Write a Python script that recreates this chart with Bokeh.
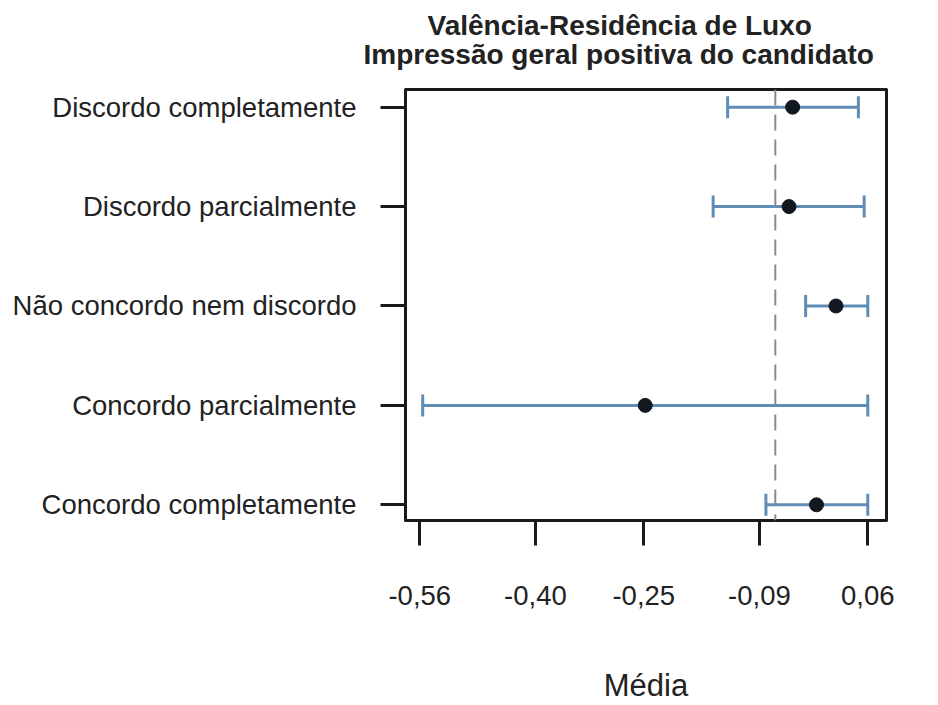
from bokeh.plotting import figure
from bokeh.models import Range1d, FixedTicker, Span, Title, ColumnDataSource
from bokeh.embed import file_html
from bokeh.resources import INLINE

# Response categories (top to bottom) and their estimated means with interval bounds
categories = [
    "Discordo completamente",
    "Discordo parcialmente",
    "Não concordo nem discordo",
    "Concordo parcialmente",
    "Concordo completamente",
]
means = [-0.044, -0.049, 0.016, -0.248, -0.011]
lower = [-0.134, -0.154, -0.026, -0.556, -0.081]
upper = [0.047, 0.055, 0.060, 0.060, 0.060]

# Overall reference mean (dashed line)
overall_mean = -0.068

x_ticks = [-0.56, -0.40, -0.25, -0.09, 0.06]
x_tick_labels = ["-0,56", "-0,40", "-0,25", "-0,09", "0,06"]

title_lines = ["Valência-Residência de Luxo", "Impressão geral positiva do candidato"]
x_label = "Média"

FONT = "Liberation Sans"
TEXT = "#222222"
BAR = "#5f8db5"

rows = list(range(1, len(categories) + 1))
src = ColumnDataSource(dict(y=rows, m=means, lo=lower, hi=upper))

p = figure(
    width=938, height=705,
    x_range=Range1d(-0.5798, 0.0859),
    y_range=Range1d(5.158, 0.822),
    output_backend="svg", toolbar_location=None,
    min_border_left=405, min_border_right=52,
    min_border_top=89, min_border_bottom=185,
)
p.background_fill_color = "white"
p.border_fill_color = "white"
p.grid.visible = False
p.outline_line_color = "#1a1a1a"
p.outline_line_width = 3
p.outline_line_join = "round"

# two-line bold title: first line is the outer title, second sits above the frame
p.title.text = title_lines[0]
p.title.align = "left"
p.title.offset = 22
p.title.text_font = FONT
p.title.text_font_size = "28px"
p.title.text_font_style = "bold"
p.title.text_color = TEXT
p.title.standoff = -48
p.add_layout(Title(text=title_lines[1], align="left", offset=-42, text_font=FONT,
                   text_font_size="28px", text_font_style="bold", text_color=TEXT,
                   standoff=40), "above")

# x axis
xa = p.xaxis[0]
xa.ticker = FixedTicker(ticks=x_ticks)
xa.major_label_overrides = {t: s for t, s in zip(x_ticks, x_tick_labels)}
xa.minor_tick_line_color = None
xa.axis_line_color = None
xa.major_tick_in = 0
xa.major_tick_out = 25
xa.major_tick_line_width = 3
xa.major_tick_line_color = "#1a1a1a"
xa.major_label_standoff = 40
xa.major_label_text_font = FONT
xa.major_label_text_font_size = "27.5px"
xa.major_label_text_color = TEXT
xa.axis_label = x_label
xa.axis_label_text_font = FONT
xa.axis_label_text_font_size = "31px"
xa.axis_label_text_font_style = "normal"
xa.axis_label_text_color = TEXT
xa.axis_label_standoff = 60

# y axis
ya = p.yaxis[0]
ya.ticker = FixedTicker(ticks=rows)
ya.major_label_overrides = {r: c for r, c in zip(rows, categories)}
ya.minor_tick_line_color = None
ya.axis_line_color = None
ya.major_tick_in = 0
ya.major_tick_out = 25
ya.major_tick_line_width = 3
ya.major_tick_line_color = "#1a1a1a"
ya.major_label_standoff = 24
ya.major_label_text_font = FONT
ya.major_label_text_font_size = "27.5px"
ya.major_label_text_color = TEXT

# reference line at the overall mean
p.add_layout(Span(location=overall_mean, dimension="height", line_color="#8a8a8a",
                  line_width=2, line_dash="16 9"))

# interval bars with end caps
p.segment(x0="lo", x1="hi", y0="y", y1="y", source=src, line_color=BAR, line_width=3)
p.dash(x="lo", y="y", source=src, angle=1.5708, size=22, line_color=BAR, line_width=3)
p.dash(x="hi", y="y", source=src, angle=1.5708, size=22, line_color=BAR, line_width=3)

# means
p.scatter(x="m", y="y", source=src, size=14, fill_color="#111820", line_color="#111820")

open("out.html", "w").write(file_html(p, INLINE))
